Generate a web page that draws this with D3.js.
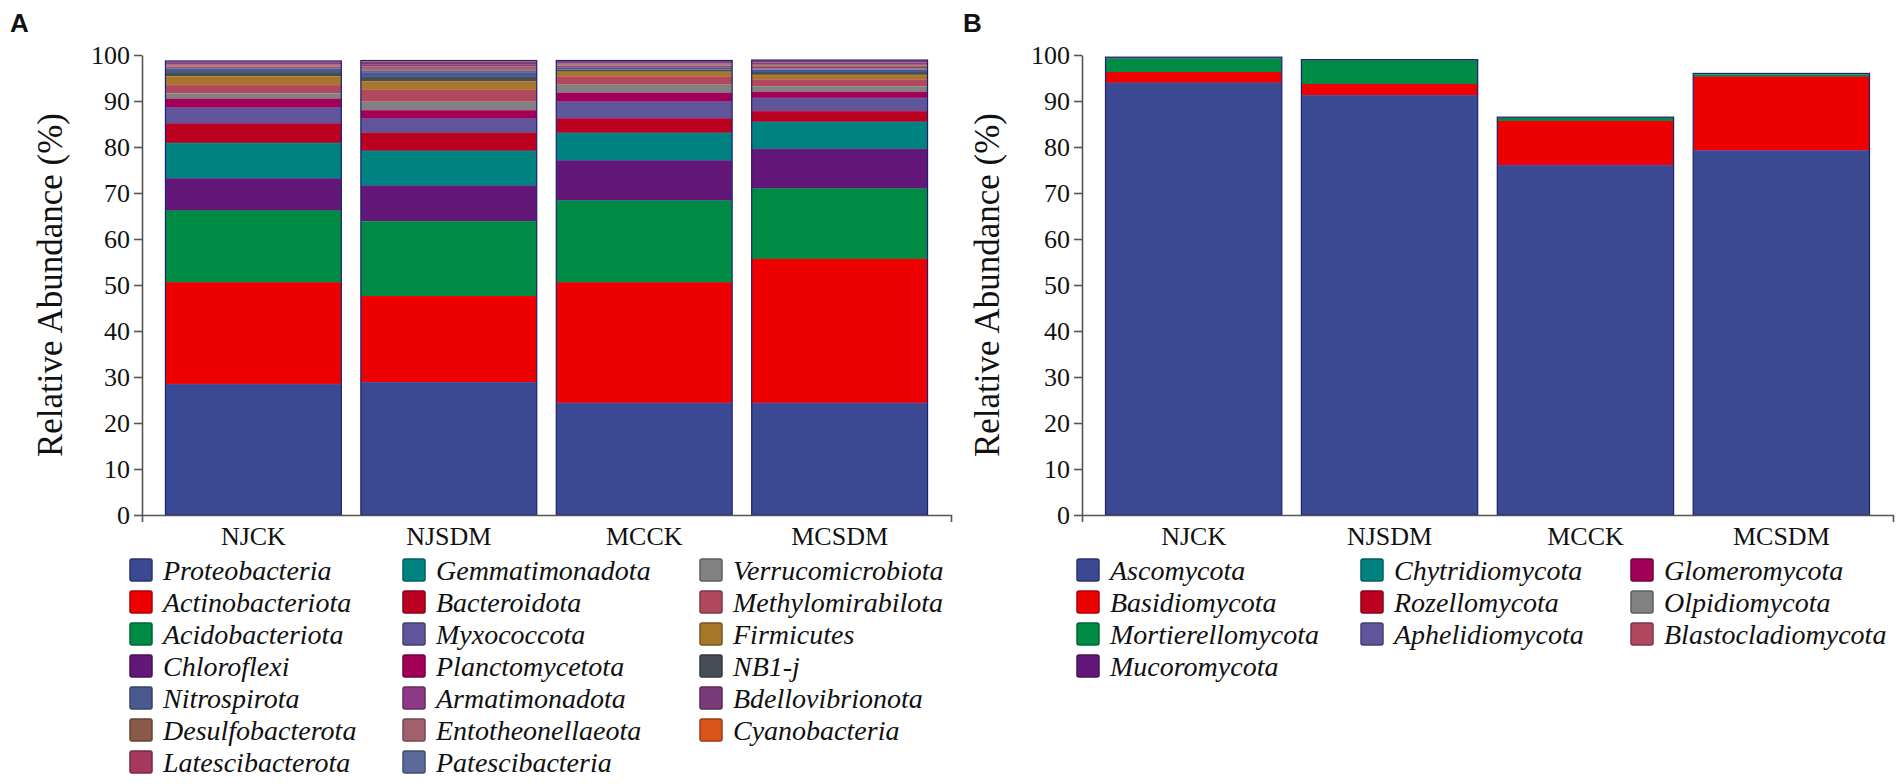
<!DOCTYPE html>
<html>
<head>
<meta charset="utf-8">
<script src="https://cdn.jsdelivr.net/npm/d3@7"></script>
<style>
  body { margin: 0; background: #fff; }
  svg text { fill: #111; font-family: "Liberation Serif", "Times New Roman", serif; }
</style>
</head>
<body>
<div id="chart"></div>
<script>
// samples on the x axis
var samples = ['NJCK', 'NJSDM', 'MCCK', 'MCSDM'];

// panel A: bacterial phyla, stacked bottom -> top
var phylaA = ['Proteobacteria', 'Actinobacteriota', 'Acidobacteriota', 'Chloroflexi',
  'Gemmatimonadota', 'Bacteroidota', 'Myxococcota', 'Planctomycetota',
  'Verrucomicrobiota', 'Methylomirabilota', 'Firmicutes', 'NB1-j', 'Nitrospirota',
  'Patescibacteria', 'Latescibacterota', 'Entotheonellaeota', 'Desulfobacterota',
  'Armatimonadota', 'Bdellovibrionota', 'Cyanobacteria'];
var colorsA = ['#3B4992', '#EE0000', '#008B45', '#631879',
  '#008280', '#BB0021', '#5F559B', '#A20056',
  '#808180', '#B0485E', '#A6762A', '#474D56', '#4A5A8E',
  '#5B6A9A', '#A6385F', '#A0606E', '#8A5A48',
  '#8E3A86', '#7B3A78', '#D9541A'];
var njckA  = [28.5, 22.1, 15.6, 7.0, 7.7, 4.2, 3.5, 1.9, 1.2, 1.8, 1.9, 0.9, 0.7, 0.2, 0.3, 0.2, 0.2, 0.4, 0.3, 0.1];
var njsdmA = [28.9, 18.7, 16.3, 7.7, 7.6, 3.9, 3.1, 1.8, 1.9, 2.6, 1.8, 1.0, 0.9, 0.4, 0.3, 0.3, 0.3, 0.5, 0.6, 0.2];
var mcckA  = [24.4, 26.2, 17.8, 8.7, 6.0, 3.1, 3.7, 1.9, 1.8, 1.8, 1.0, 0.4, 0.4, 0.2, 0.3, 0.3, 0.2, 0.3, 0.2, 0.1];
var mcsdmA = [24.4, 31.3, 15.3, 8.6, 5.9, 2.3, 2.9, 1.3, 1.2, 1.5, 1.0, 0.6, 0.5, 0.3, 0.3, 0.3, 0.3, 0.4, 0.3, 0.2];
// legend order (column by column)
var legendA = ['Proteobacteria', 'Actinobacteriota', 'Acidobacteriota', 'Chloroflexi',
  'Nitrospirota', 'Desulfobacterota', 'Latescibacterota',
  'Gemmatimonadota', 'Bacteroidota', 'Myxococcota', 'Planctomycetota',
  'Armatimonadota', 'Entotheonellaeota', 'Patescibacteria',
  'Verrucomicrobiota', 'Methylomirabilota', 'Firmicutes', 'NB1-j',
  'Bdellovibrionota', 'Cyanobacteria'];

// panel B: fungal phyla
var phylaB = ['Ascomycota', 'Basidiomycota', 'Mortierellomycota', 'Mucoromycota',
  'Chytridiomycota', 'Rozellomycota', 'Aphelidiomycota',
  'Glomeromycota', 'Olpidiomycota', 'Blastocladiomycota'];
var colorsB = ['#3B4992', '#EE0000', '#008B45', '#631879',
  '#008280', '#BB0021', '#5F559B', '#A20056', '#808180', '#B0485E'];
var njckB  = [94.0, 2.3, 2.9, 0.10, 0.10, 0.05, 0.03, 0.02, 0.02, 0.01];
var njsdmB = [91.3, 2.4, 5.1, 0.05, 0.05, 0.03, 0.02, 0.02, 0.01, 0.01];
var mcckB  = [76.1, 9.6, 0.6, 0.05, 0.05, 0.03, 0.02, 0.02, 0.01, 0.01];
var mcsdmB = [79.3, 16.0, 0.5, 0.05, 0.05, 0.03, 0.02, 0.02, 0.01, 0.01];

var yTicks = [0, 10, 20, 30, 40, 50, 60, 70, 80, 90, 100];

var width = 1902, height = 784;
var serif = '"Liberation Serif", "Times New Roman", serif';

var svg = d3.select('#chart').append('svg')
  .attr('width', width)
  .attr('height', height)
  .attr('viewBox', '0 0 ' + width + ' ' + height)
  .attr('font-family', serif);

function toRows(keys, series) {
  return samples.map(function (s, i) {
    var row = { sample: s };
    keys.forEach(function (k, j) { row[k] = series[i][j]; });
    return row;
  });
}

var draw = function draw(opt) {
  var keys = opt.keys;
  var color = d3.scaleOrdinal().domain(keys).range(opt.colors);

  var x = d3.scaleBand().domain(samples)
    .range(opt.xRange).paddingInner(0.1).paddingOuter(0.12);
  var y = d3.scaleLinear().domain([0, 100]).range([515, 55]);

  var g = svg.append('g');

  // panel letter
  g.append('text')
    .attr('x', opt.letterX).attr('y', 32)
    .style('font-family', '"Liberation Sans", Arial, sans-serif')
    .style('font-weight', 'bold')
    .style('font-size', '26px')
    .text(opt.letter);

  var stacked = d3.stack().keys(keys)(toRows(keys, opt.series));

  var layer = g.selectAll('g.layer').data(stacked).enter()
    .append('g').attr('class', 'layer')
    .attr('fill', function (d) { return color(d.key); });

  layer.selectAll('rect').data(function (d) { return d; }).enter()
    .append('rect')
    .attr('x', function (d) { return x(d.data.sample); })
    .attr('width', x.bandwidth())
    .attr('y', function (d) { return y(d[1]); })
    .attr('height', function (d) { return Math.max(0, y(d[0]) - y(d[1])); });

  // lighter seam on top of each layer
  layer.selectAll('line').data(function (d) { return d; }).enter()
    .append('line')
    .attr('x1', function (d) { return x(d.data.sample); })
    .attr('x2', function (d) { return x(d.data.sample) + x.bandwidth(); })
    .attr('y1', function (d) { return y(d[1]); })
    .attr('y2', function (d) { return y(d[1]); })
    .attr('stroke', function () {
      return d3.color(d3.select(this.parentNode).attr('fill')).brighter(0.8);
    })
    .attr('stroke-width', function (d) { return (d[1] - d[0]) > 0.8 ? 1 : 0; });

  // dark outline of each whole bar
  var totals = opt.series.map(function (s) { return d3.sum(s); });
  g.selectAll('rect.outline').data(samples).enter()
    .append('rect').attr('class', 'outline')
    .attr('x', function (d) { return x(d); })
    .attr('width', x.bandwidth())
    .attr('y', function (d, i) { return y(totals[i]); })
    .attr('height', function (d, i) { return y(0) - y(totals[i]); })
    .attr('fill', 'none')
    .attr('stroke', '#1B2170')
    .attr('stroke-width', 1.2);

  // axes
  var yAxis = g.append('g')
    .attr('transform', 'translate(' + opt.xRange[0] + ',0)')
    .call(d3.axisLeft(y).tickValues(yTicks).tickSize(8).tickSizeOuter(0).tickPadding(4));
  var xAxis = g.append('g')
    .attr('transform', 'translate(0,' + y(0) + ')')
    .call(d3.axisBottom(x).tickSize(0).tickSizeOuter(7).tickPadding(8));

  [yAxis, xAxis].forEach(function (a) {
    a.attr('font-family', serif);
    a.selectAll('path, line').attr('stroke', '#555').attr('stroke-width', 1.6);
    a.selectAll('text')
      .style('font-family', serif)
      .style('font-size', '26px')
      .attr('fill', '#111');
  });
  xAxis.selectAll('text').attr('dy', '0.85em');

  // y title
  g.append('text')
    .attr('transform', 'translate(' + opt.titleX + ',' + 285 + ') rotate(-90)')
    .attr('text-anchor', 'middle')
    .style('font-family', serif)
    .style('font-size', '35px')
    .text('Relative Abundance (%)');

  // legend, column by column
  var items = [];
  var idx = 0;
  opt.legendCols.forEach(function (n, c) {
    for (var r = 0; r < n; r++) {
      items.push({ name: opt.legend[idx++], col: c, row: r });
    }
  });
  var leg = g.selectAll('g.leg').data(items).enter()
    .append('g').attr('class', 'leg')
    .attr('transform', function (d) {
      return 'translate(' + opt.legendX[d.col] + ',' + (570 + d.row * 32) + ')';
    });
  leg.append('rect')
    .attr('x', 0).attr('y', -11)
    .attr('width', 22).attr('height', 22)
    .attr('rx', 2)
    .attr('fill', function (d) { return color(d.name); })
    .attr('stroke', function (d) { return d3.color(color(d.name)).darker(0.9); })
    .attr('stroke-width', 1.5);
  leg.append('text')
    .attr('x', 33).attr('y', 0).attr('dy', '0.35em')
    .style('font-family', serif)
    .style('font-style', 'italic')
    .style('font-size', '28px')
    .text(function (d) { return d.name; });
};

draw({
  letter: 'A', letterX: 10, titleX: 62,
  keys: phylaA, colors: colorsA,
  series: [njckA, njsdmA, mcckA, mcsdmA],
  xRange: [142, 951],
  legend: legendA, legendCols: [7, 7, 6], legendX: [130, 403, 700]
});

draw({
  letter: 'B', letterX: 963, titleX: 999,
  keys: phylaB, colors: colorsB,
  series: [njckB, njsdmB, mcckB, mcsdmB],
  xRange: [1082, 1893],
  legend: phylaB, legendCols: [4, 3, 3], legendX: [1077, 1361, 1631]
});
</script>
</body>
</html>
